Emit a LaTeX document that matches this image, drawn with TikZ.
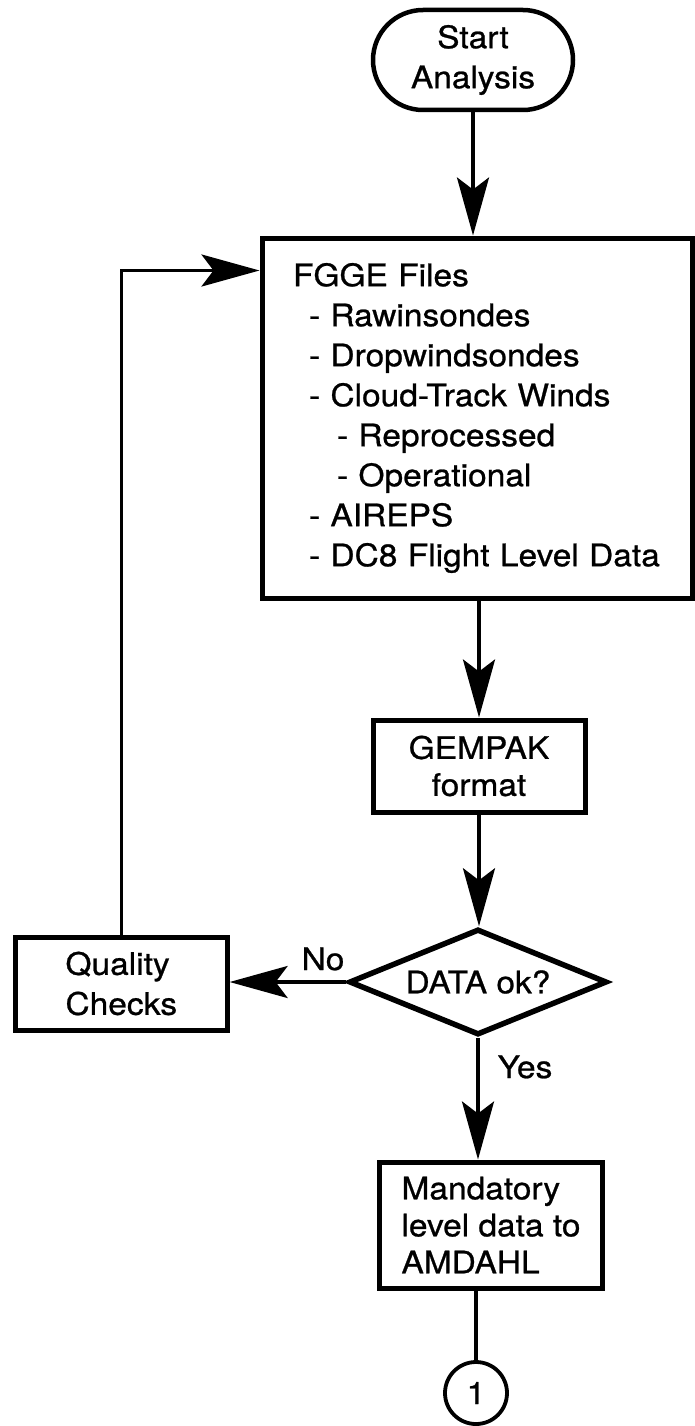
\documentclass[tikz,border=0pt]{standalone}
\usepackage{fontspec}
\setmainfont{TeX Gyre Heros}[FakeStretch=1.08,FakeBold=0.8]
\usetikzlibrary{arrows.meta,shapes.geometric,shapes.misc}
\begin{document}
\begin{tikzpicture}[x=1pt,y=-1pt,
  txt/.style={font=\fontsize{31}{40}\selectfont},
  tighttxt/.style={font=\fontsize{31}{37}\selectfont},
  procbox/.style={draw, line width=5pt, rectangle, inner sep=0pt},
  terminal/.style={draw, line width=4.5pt, rounded rectangle, minimum width=200pt,
    minimum height=100pt, inner sep=0pt, align=center, txt},
  decision/.style={draw, line width=5.5pt, diamond, aspect=2.4, minimum width=258pt,
    minimum height=106pt, inner sep=0pt, txt},
  connector/.style={draw, line width=3.8pt, circle, minimum size=62pt, inner sep=0pt, txt},
  flow/.style={line width=3.6pt, -{Stealth[length=58pt,width=32pt,inset=12pt]}},
  plainline/.style={line width=3.6pt}]
\useasboundingbox (0,0) rectangle (694,1426);

% process nodes
\node[terminal] (start) at (473,60) {Start\\Analysis};
\node[procbox, txt, minimum width=430pt, minimum height=360pt, inner xsep=31pt,
      text width=368pt, align=left] (fgge) at (477,418)
  {FGGE Files\\
   \hspace*{16pt}- Rawinsondes\\
   \hspace*{16pt}- Dropwindsondes\\
   \hspace*{16pt}- Cloud-Track Winds\\
   \hspace*{44pt}- Reprocessed\\
   \hspace*{44pt}- Operational\\
   \hspace*{16pt}- AIREPS\\
   \hspace*{16pt}- DC8 Flight Level Data};
\node[procbox, tighttxt, minimum width=212pt, minimum height=92pt, align=center]
  (gempak) at (479,766) {GEMPAK\\format};
\node[decision] (dec) at (478,982) {DATA ok?};
\node[procbox, txt, anchor=west, inner xsep=50pt, minimum height=93pt, align=left]
  (qc) at (13,983.5) {Quality\\Checks};
\node[procbox, tighttxt, anchor=west, inner xsep=22pt, minimum height=126pt, align=left]
  (mand) at (377,1225) {Mandatory\\level data to\\AMDAHL};
\node[connector] (conn) at (476,1393) {1};

% branch labels
\node[txt, anchor=base, inner sep=0pt] (nolbl) at (323,970) {No};
\node[txt, anchor=base, inner sep=0pt] (yeslbl) at (525,1078) {Yes};

% connectors
\draw[flow] (start.south) -- (start.south |- fgge.north);
\draw[flow] (fgge.south -| gempak.north) -- (gempak.north);
\draw[flow] (gempak.south) -- (gempak.south |- dec.north);
\draw[flow] (dec.west) -- (dec.west -| qc.east);
\draw[flow] (qc.north) |- ([yshift=-35pt]fgge.north west);
\draw[flow] (dec.south) -- (dec.south |- mand.north);
\draw[plainline] (mand.south -| conn.north) -- (conn.north);
\end{tikzpicture}
\end{document}
